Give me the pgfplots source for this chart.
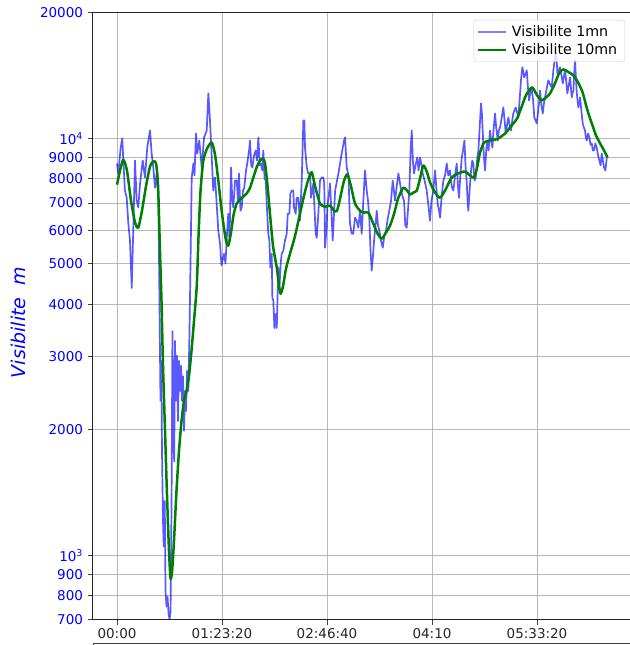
\documentclass[border=0pt]{standalone}
\usepackage{fontspec}
\setmainfont{DejaVu Sans}
\usepackage{pgfplots}
\pgfplotsset{compat=1.18}

\begin{document}
\begin{tikzpicture}
\begin{axis}[
    scale only axis,
    width=540pt, height=607pt,
    ymode=log,
    xmin=-19.05, xmax=409.5,
    ymin=700, ymax=20000,
    xtick={0,83.333,166.667,250,333.333},
    xticklabels={00:00,01:23:20,02:46:40,04:10,05:33:20},
    ytick={700,800,900,1000,2000,3000,4000,5000,6000,7000,8000,9000,10000,20000},
    yticklabels={700,800,900,10\textsuperscript{3},2000,3000,4000,5000,6000,7000,8000,9000,10\textsuperscript{4},20000},
    yminorticks=false,
    minor tick length=0pt,
    xtick pos=bottom, ytick pos=left,
    tick align=outside,
    major tick length=5pt,
    tick style={black!75, line width=1pt},
    grid=major,
    grid style={black!28, line width=1pt},
    axis line style={black!85, line width=1pt},
    x tick label style={font=\fontsize{13.5}{15}\selectfont, text=black!85},
    y tick label style={font=\fontsize{13.5}{15}\selectfont, text=blue, xshift=-1.5pt},
    ylabel={\itshape Visibilite\ \ m},
    ylabel style={font=\fontsize{19}{22}\selectfont, text=blue, at={(axis description cs:-0.139,0.49)}, anchor=center},
    legend image code/.code={\draw[#1] (0pt,0pt) -- (28pt,0pt);},
    legend style={at={(axis description cs:0.985,0.9885)}, anchor=north east,
        font=\fontsize{14.2}{15}\selectfont, draw=black!20, rounded corners=2pt,
        fill=white, fill opacity=0.8, text opacity=1, inner xsep=3pt, inner ysep=3pt,
        row sep=1pt, cells={anchor=west}, nodes={inner xsep=4.5pt, inner ysep=2.5pt}},
]

% visibilite 1 mn
\addplot[color=blue, draw opacity=0.65, line width=1.7pt, line join=round,
    legend image post style={draw=blue, draw opacity=0.5, line width=2.2pt}] coordinates {
(0,8710) (1.0,8240) (2.9,9510) (4.2,10000) (5.0,8850) (6.3,7500) (7.7,7210) (9.0,6250) (10.3,5690) (11.7,4380)
(12.9,6010) (14.3,8850) (15.6,7100) (16.9,6830) (18.3,7800) (20.4,8850) (22.2,8060) (24.0,9510) (26.2,10450) (27.5,9200)
(28.8,8520) (30.2,7620) (31.5,8240) (32.9,7100) (33.7,4080) (34.5,2350) (35.2,2930) (35.7,1780) (36.5,1210) (37.1,1050)
(37.9,1350) (38.5,819) (39.3,754) (40.1,797) (40.9,725) (41.7,702) (42.5,733) (43.3,1350) (44.0,3450) (44.7,1880)
(45.4,1680) (46.0,3270) (46.8,2350) (47.6,3010) (48.4,2100) (49.2,2930) (50.0,2480) (50.8,2850) (51.6,2350) (52.4,2690)
(53.2,1990) (54.0,2480) (54.8,2220) (55.6,2770) (56.6,2480) (57.4,3270) (57.9,4080) (58.6,5690) (59.3,8060) (60.6,8710)
(61.5,8150) (62.7,10280) (63.7,9200) (65.3,9890) (67.2,8520) (69.1,10060) (71.2,10450) (72.5,12830) (73.8,11050) (75.2,9000)
(76.4,7500) (77.8,8060) (79.1,6980) (80.4,6010) (81.8,5590) (82.9,4960) (83.9,5130) (84.9,5290) (86.1,5010) (87.3,5910)
(88.3,6600) (89.3,5690) (90.5,8520) (91.5,7100) (92.3,6830) (93.7,7930) (95.0,7930) (96.0,7100) (96.8,8240) (98.0,6710)
(99.0,6830) (100.0,7500) (101.0,7620) (102.4,8380) (103.7,8850) (104.8,9360) (105.6,9890) (106.5,8620) (107.4,8520) (108.7,9100)
(110.1,9360) (111.1,8850) (112.2,10060) (113.3,8620) (114.3,8710) (115.3,8380) (116.1,9360) (117.1,8020) (118.0,7930) (119.1,6710)
(120.1,5910) (120.9,5690) (121.7,4900) (122.8,5290) (123.3,4150) (124.1,4080) (124.9,3510) (126.0,3800) (126.8,3510) (128.0,4900)
(129.0,4430) (129.9,5010) (130.7,5290) (132.0,5380) (133.3,5690) (134.7,5910) (135.5,6600) (136.8,6600) (137.6,7380) (138.7,7500)
(139.9,7500) (140.5,6830) (141.8,6600) (142.6,7210) (143.9,7210) (145.2,6350) (146.6,7930) (147.9,11050) (148.7,11050) (149.2,9510)
(150.6,8520) (151.8,8240) (153.2,8240) (154.0,7210) (155.8,7800) (157.7,5910) (158.5,5780) (159.8,6600) (161.1,7930) (162.5,8060)
(163.7,8060) (164.5,7800) (165.1,5470) (166.4,6110) (166.9,6830) (169.1,7800) (171.2,5690) (173.1,7500) (175.7,8240) (178.3,9200)
(180.2,9890) (181.0,10060) (182.3,8520) (183.7,8150) (184.9,6250) (186.3,5910) (187.5,5910) (188.9,6460) (190.2,6350) (191.5,6110)
(192.9,6710) (194.2,5910) (195.5,7100) (196.8,8380) (198.2,7500) (199.2,7100) (200.2,6460) (201.2,5380) (202.1,4820) (203.2,5250)
(204.0,5690) (205.2,6200) (206.1,6710) (207.1,6200) (208.2,6010) (209.5,5690) (210.9,5470) (212.2,5850) (213.5,6010) (214.9,6430)
(216.1,6710) (217.5,7100) (218.8,7930) (220.7,7100) (222.0,7680) (223.3,8240) (225.2,7620) (226.4,7290) (227.8,7100) (228.8,6200)
(229.9,6110) (230.9,6710) (232.0,7500) (233.0,9360) (233.9,10450) (234.8,8850) (235.7,8240) (236.9,8620) (238.3,9000) (239.3,8380)
(240.5,9000) (241.7,8620) (242.6,8240) (244.1,7930) (245.8,7500) (247.1,6930) (248.4,6350) (249.6,7100) (251.0,7500) (252.4,8380)
(253.6,7500) (254.5,6980) (255.6,6710) (256.4,6460) (257.7,7290) (259.0,7930) (260.3,8150) (261.7,8710) (262.9,8150) (264.3,8380)
(265.6,7680) (266.9,7500) (268.3,8150) (269.6,8710) (270.6,7680) (271.4,7210) (272.5,8150) (273.6,9000) (274.6,9360) (275.7,9890)
(276.6,8620) (277.6,7800) (278.2,7100) (278.8,6710) (279.8,7500) (281.0,8380) (281.9,8850) (282.8,8710) (283.7,7930) (284.7,8060)
(285.7,8850) (286.8,9360) (287.7,10450) (288.9,12140) (289.7,11380) (290.2,10450) (291.1,9100) (292.1,8380) (293.0,9360) (293.9,9890)
(294.9,9360) (296.0,10450) (297.0,9890) (297.9,9510) (298.8,10450) (300.0,11480) (301.0,10580) (302.2,9890) (303.0,10450) (304.0,10630)
(305.2,11170) (306.6,11870) (307.6,11050) (308.5,10280) (309.5,10760) (310.6,11230) (311.6,10760) (312.7,10450) (313.7,11050) (314.5,11480)
(315.5,11680) (316.4,11870) (317.5,11540) (318.5,11230) (319.5,12340) (320.6,13790) (321.7,14820) (322.4,14450) (323.2,14020) (324.2,14260)
(325.2,14570) (326.0,13400) (327.0,12340) (328.0,12830) (329.1,13260) (330.2,12340) (331.2,11230) (332.2,11050) (333.1,10870) (334.1,11540)
(334.9,12140) (335.7,13040) (336.7,12070) (337.9,11480) (338.7,12070) (339.7,12550) (341.0,13180) (342.3,13790) (343.7,13470) (345.0,13260)
(346.3,14570) (347.6,15660) (348.6,16050) (349.5,14330) (350.6,14570) (351.6,14820) (352.7,14180) (353.8,13560) (354.7,14090) (355.6,14570)
(356.6,13630) (357.4,12830) (358.5,13400) (359.6,14020) (360.4,13040) (360.9,12550) (361.5,12830) (362.2,13040) (362.9,14450) (363.5,15400)
(364.3,13790) (364.9,12830) (365.5,12340) (366.1,11870) (366.9,12140) (367.5,12550) (368.5,11680) (369.6,10870) (370.5,10630) (371.4,10450)
(372.1,10060) (372.8,9890) (373.8,10280) (374.9,10060) (375.8,9650) (376.8,9730) (377.6,9360) (378.6,9360) (379.6,9730) (380.7,9510)
(381.8,9100) (382.8,8850) (383.8,8620) (384.7,9200) (385.6,8850) (386.5,8520) (387.6,8380) (388.7,9000)
};

% visibilite 10 mn (moyenne glissante)
\addplot[color=green!50!black, line width=2.5pt, smooth, tension=0.4, line join=round] coordinates {
(0,7750) (2.4,8380) (5.0,8890) (7.9,8380) (11.1,7100) (14.3,6290) (16.9,6110) (19.8,6710) (23.0,7680) (26.2,8570)
(28.8,8810) (31.0,8710) (32.6,7680) (34.1,5380) (35.3,4080) (36.5,2850) (38.1,1990) (39.7,1390) (41.3,1020) (42.5,880)
(43.7,915) (45.2,1080) (47.2,1425) (49.2,1780) (51.2,2100) (53.2,2350) (55.2,2480) (57.1,2690) (59.1,3090) (61.1,3650)
(63.3,4430) (64.7,5840) (66.3,7500) (68.5,8850) (71.4,9450) (75.2,9780) (77.8,9140) (80.4,7930) (82.5,6930) (84.4,6250)
(86.5,5690) (88.3,5530) (90.5,5950) (92.5,6560) (95.0,6980) (98.4,7170) (102.9,7380) (105.6,7620) (108.2,8060) (111.1,8570)
(113.5,8850) (115.9,8950) (117.5,8710) (119.5,7680) (121.4,6600) (123.8,5530) (126.8,4900) (128.6,4430) (129.9,4240) (131.8,4430)
(134.1,4870) (137.3,5290) (141.3,5840) (145.2,6600) (148.4,7290) (151.6,7930) (154.5,8300) (157.2,7680) (161.1,6980) (165.1,6860)
(169.1,6900) (172.3,6710) (174.6,6710) (177.0,7170) (180.2,7930) (182.9,8200) (185.7,7680) (188.9,6980) (192.9,6710) (196.0,6640)
(199.5,6640) (203.4,6250) (206.8,5910) (210.1,5750) (213.5,5950) (216.7,6180) (219.9,6600) (223.0,7170) (227.2,7620) (230.2,7500)
(232.6,7340) (235.3,7420) (237.9,7500) (240.5,8020) (243.1,8610) (246.0,8300) (248.4,7850) (252.4,7420) (256.3,7210) (260.3,7500)
(265.6,8060) (270.6,8240) (276.2,8330) (280.2,8150) (283.3,8060) (285.7,8480) (288.1,9250) (291.3,9780) (296.0,9890) (302.0,9980)
(308.0,10280) (313.9,10810) (317.5,11170) (321.2,11930) (324.6,12700) (329.4,13260) (333.3,12700) (337.1,12340) (340.5,12550) (343.7,12830)
(347.6,13560) (350.8,14330) (354.2,14650) (358.0,14450) (362.2,14170) (365.9,13630) (369.5,12900) (372.3,11990) (374.6,11360) (377.4,10740)
(380.2,10160) (383.4,9730) (386.5,9360) (389.3,9000)
};
\legend{Visibilite 1mn, Visibilite 10mn}
\end{axis}
% bord du graphique suivant, coupe en bas
\draw[black!75, line width=1pt] ([xshift=10pt,yshift=-23pt]current axis.south east) -- ([yshift=-23pt]current axis.south west) -- ++(0,-5pt);
\pgfresetboundingbox
\path[use as bounding box] ([xshift=-93pt,yshift=-25pt]current axis.south west) rectangle ([xshift=-3pt,yshift=13pt]current axis.north east);
\end{tikzpicture}
\end{document}
